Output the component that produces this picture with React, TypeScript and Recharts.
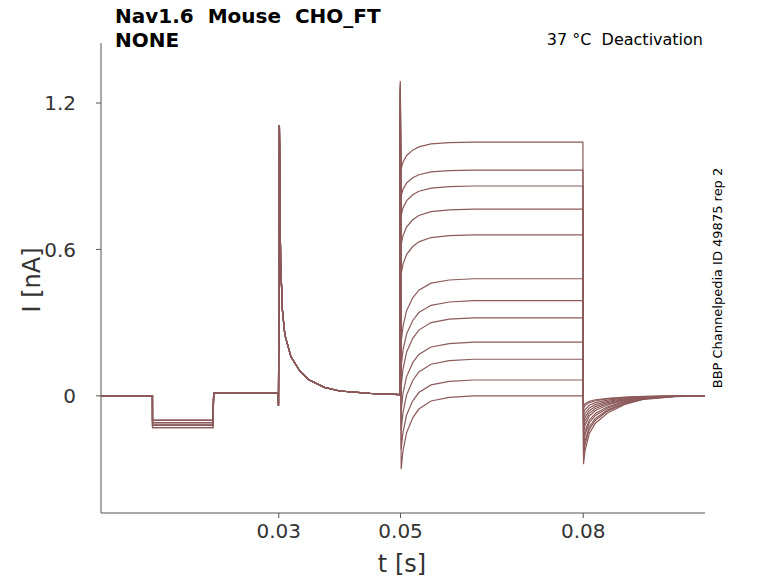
import React from "react";
import { LineChart, Line, XAxis, YAxis } from "recharts";

const levels = [1.04, 0.925, 0.86, 0.765, 0.66, 0.48, 0.39, 0.32, 0.22, 0.15, 0.065, 0.0];
const dips = [0.93, 0.82, 0.74, 0.62, 0.5, 0.22, 0.12, 0.04, -0.06, -0.14, -0.22, -0.3];
const tailDips = [-0.28, -0.25, -0.23, -0.2, -0.18, -0.15, -0.13, -0.11, -0.09, -0.07, -0.05, -0.04];
const stepLevels = [-0.1, -0.11, -0.12, -0.1, -0.13, -0.11, -0.1, -0.12, -0.11, -0.13, -0.1, -0.12];
const peak05 = [1.29, 1.28, 1.27, 1.26, 1.25, 1.22, 1.2, 1.18, 1.15, 1.12, 1.1, 1.08];

const spike03T = [0.0299, 0.02995, 0.0301, 0.0303, 0.0306, 0.031, 0.032, 0.0335, 0.035, 0.0375, 0.04, 0.045, 0.0499];
const spike03V = [0.01, -0.04, 1.11, 0.55, 0.35, 0.25, 0.16, 0.1, 0.065, 0.035, 0.02, 0.01, 0.005];
const recT = [0.0001, 0.0004, 0.001, 0.002, 0.003, 0.005, 0.008, 0.012, 0.02, 0.0299];
const recF = [0, 0.25, 0.5, 0.7, 0.82, 0.93, 0.98, 1, 1, 1];
const tailT = [0.00005, 0.0003, 0.001, 0.002, 0.004, 0.007, 0.01, 0.015, 0.02];
const tailF = [1, 0.8, 0.55, 0.4, 0.25, 0.12, 0.05, 0.01, 0];

const times: number[] = [0.0008, 0.00925, 0.00926, 0.0192, 0.0193, ...spike03T, 0.04995,
  ...recT.map((t) => 0.05 + t), 0.07995, ...tailT.map((t) => 0.08 + t), 0.1];

const data = times.map((t, i) => {
  const row: Record<string, number> = { t };
  levels.forEach((lv, s) => {
    let v = 0;
    if (i === 0 || i === 1) v = 0;
    else if (i === 2 || i === 3) v = stepLevels[s];
    else if (i === 4) v = 0.01;
    else if (i < 5 + spike03T.length) v = spike03V[i - 5];
    else if (i === 5 + spike03T.length) v = peak05[s];
    else if (i < 6 + spike03T.length + recT.length) {
      const f = recF[i - 6 - spike03T.length];
      v = dips[s] + (lv - dips[s]) * f;
    } else if (i === 6 + spike03T.length + recT.length) v = lv;
    else if (i < 7 + spike03T.length + recT.length + tailT.length) {
      v = tailDips[s] * tailF[i - 7 - spike03T.length - recT.length];
    } else v = 0;
    row["s" + s] = v;
  });
  return row;
});

const font = "'DejaVu Sans', sans-serif";
const color = "#8c5a5a";

export default function App() {
  return (
    <div style={{ position: "absolute", left: 0, top: 0, width: 778, height: 583, fontFamily: font, background: "#fff" }}>
      <LineChart width={778} height={583} data={data} margin={{ left: 41, right: 73, top: 43, bottom: 30 }}>
        <XAxis dataKey="t" type="number" domain={[0.0008, 0.1]} ticks={[0.03, 0.05, 0.08]}
          tickFormatter={(v) => String(v)} stroke="#555" tickSize={5} tickMargin={6}
          tick={{ fontSize: 20, fill: "#333", fontFamily: font }} height={40} allowDataOverflow />
        <YAxis type="number" domain={[-0.48, 1.446]} ticks={[0, 0.6, 1.2]}
          tickFormatter={(v) => String(v)} stroke="#555" tickSize={5} tickMargin={20}
          tick={{ fontSize: 20, fill: "#333", fontFamily: font }} width={60} allowDataOverflow />
        {levels.map((_, s) => (
          <Line key={s} dataKey={"s" + s} stroke={color} strokeWidth={1.2} dot={false} isAnimationActive={false} />
        ))}
      </LineChart>
      <div style={{ position: "absolute", left: 115, top: 4, fontSize: 20, fontWeight: "bold", lineHeight: "24px" }}>
        Nav1.6&nbsp; Mouse&nbsp; CHO_FT<br />NONE
      </div>
      <div style={{ position: "absolute", right: 75, top: 30, fontSize: 16 }}>37 °C&nbsp; Deactivation</div>
      <div style={{ position: "absolute", left: 402, top: 550, fontSize: 24, transform: "translateX(-50%)", color: "#333" }}>t [s]</div>
      <div style={{ position: "absolute", left: 32, top: 280, fontSize: 24, transform: "translate(-50%,-50%) rotate(-90deg)", color: "#333", whiteSpace: "nowrap" }}>I [nA]</div>
      <div style={{ position: "absolute", left: 717, top: 278, fontSize: 13, transform: "translate(-50%,-50%) rotate(-90deg)", whiteSpace: "nowrap" }}>BBP Channelpedia ID 49875 rep 2</div>
    </div>
  );
}
